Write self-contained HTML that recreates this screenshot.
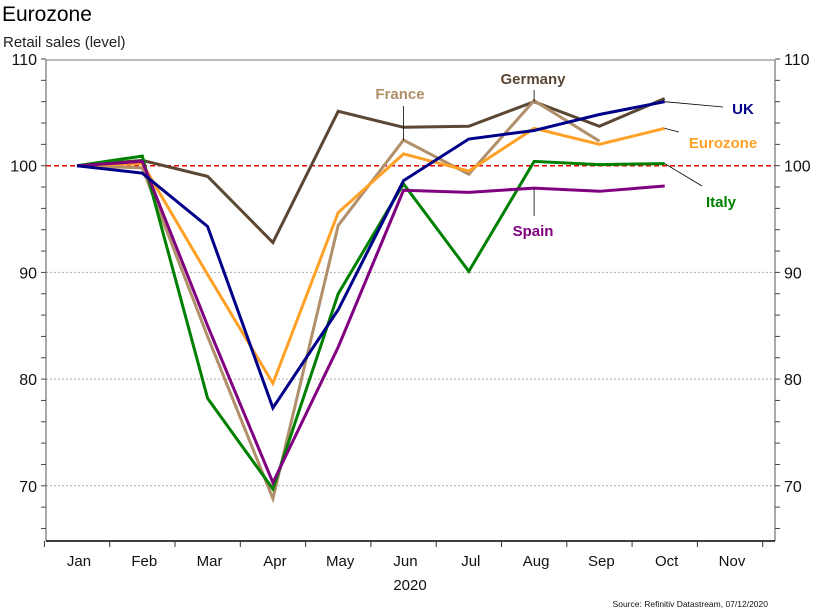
<!DOCTYPE html>
<html><head><meta charset="utf-8">
<style>
body{margin:0;background:#fff;}
svg{display:block;font-family:"Liberation Sans",Arial,sans-serif;}
</style></head>
<body>
<svg id="chart" width="815" height="616" viewBox="0 0 815 616" xmlns="http://www.w3.org/2000/svg">
<text x="2" y="21" font-size="21" fill="#000">Eurozone</text>
<text x="3" y="47" font-size="15" fill="#222">Retail sales (level)</text>
<g id="grid"></g>
<g id="axes"></g>
<g id="series"></g>
<g id="labels"></g>
<text x="410" y="590" font-size="15" text-anchor="middle" fill="#111">2020</text>
<text x="768" y="607" font-size="8.5" text-anchor="end" fill="#111">Source: Refinitiv Datastream, 07/12/2020</text>
</svg>
<script>
const months = ["Jan","Feb","Mar","Apr","May","Jun","Jul","Aug","Sep","Oct","Nov"];
const yTicks = [70,80,90,100,110];
const germany = [100,100.5,99.0,92.8,105.1,103.6,103.7,106.0,103.7,106.3];
const france = [100,99.8,84.0,68.8,94.4,102.4,99.2,106.1,102.3];
const eurozone = [100,100.2,89.8,79.6,95.6,101.1,99.5,103.5,102.0,103.5];
const uk = [100,99.3,94.3,77.3,86.5,98.6,102.5,103.3,104.8,106.0];
const italy = [100,100.9,78.2,69.7,88.0,98.3,90.1,100.4,100.1,100.2];
const spain = [100,100.4,85.0,70.3,83.0,97.7,97.5,97.9,97.6,98.1];

const NS="http://www.w3.org/2000/svg";
const L=46,R=775,T=60,B=541;
const y=v=>165.7-(v-100)*10.67;
const x=i=>77+i*65.3;
function mk(tag,attrs,parent){const e=document.createElementNS(NS,tag);for(const k in attrs)e.setAttribute(k,attrs[k]);parent.appendChild(e);return e;}
const grid=document.getElementById('grid'),axes=document.getElementById('axes'),ser=document.getElementById('series'),lab=document.getElementById('labels');

yTicks.forEach(v=>{
  if(v!==100&&v!==110){const g=mk('line',{x1:L,x2:R,y1:y(v),y2:y(v),stroke:'#aaa','stroke-width':1,'stroke-dasharray':'2,2'},grid);
  
  }
  const t1=mk('text',{x:L-9,y:y(v)+6,'font-size':16,'text-anchor':'end',fill:'#111'},axes);t1.textContent=v;
  
  
  const t2=mk('text',{x:R+9,y:y(v)+6,'font-size':16,'text-anchor':'start',fill:'#111'},axes);t2.textContent=v;
  
  
});
for(let v=66;v<=110;v+=2){
  mk('line',{x1:L-5,x2:L,y1:y(v),y2:y(v),stroke:'#444','stroke-width':1},axes);
  mk('line',{x1:R,x2:R+5,y1:y(v),y2:y(v),stroke:'#444','stroke-width':1},axes);
}
mk('line',{x1:L,x2:R,y1:T,y2:T,stroke:'#777','stroke-width':1},axes);
mk('line',{x1:L,x2:L,y1:T,y2:B,stroke:'#555','stroke-width':1},axes);
mk('line',{x1:R,x2:R,y1:T,y2:B,stroke:'#555','stroke-width':1},axes);
const xa=mk('line',{x1:L,x2:R,y1:B,y2:B,stroke:'#000','stroke-width':1.5},axes);


months.forEach((m,i)=>{
  const tx=x(i)-32.6;
  mk('line',{x1:tx,x2:tx,y1:B,y2:B+6,stroke:'#333','stroke-width':1},axes);
  const t=mk('text',{x:x(i)+2,y:566,'font-size':15,'text-anchor':'middle',fill:'#111'},axes);t.textContent=m;
  
  
});
mk('line',{x1:x(11)-32.6,x2:x(11)-32.6,y1:B,y2:B+6,stroke:'#333','stroke-width':1},axes);
const ref=mk('line',{x1:L,x2:R,y1:y(100),y2:y(100),stroke:'#e00','stroke-width':1.5,'stroke-dasharray':'5,3'},grid);



function line(data,color,w,name){
  const p=mk('polyline',{points:data.map((v,i)=>x(i)+','+y(v)).join(' '),fill:'none',stroke:color,'stroke-width':w,'stroke-linejoin':'miter'},ser);
  
  
}
line(germany,'#5b4733',3,'germany-line');
line(france,'#b18f6a',3,'france-line');
line(eurozone,'#ffa126',3,'eurozone-line');
line(italy,'#008000',3,'italy-line');
line(spain,'#800080',3,'spain-line');
line(uk,'#000088',3,'uk-line');

function label(txt,color,tx,ty,lx1,ly1,lx2,ly2,name){
  mk('line',{x1:lx1,y1:ly1,x2:lx2,y2:ly2,stroke:'#000','stroke-width':0.8},lab);
  const t=mk('text',{x:tx,y:ty,'font-size':15,'font-weight':'bold',fill:color,'text-anchor':'middle'},lab);t.textContent=txt;
  
  
}
label('France','#b18f6a',400,99,x(5),106,x(5),y(france[5]),'france-label');
label('Germany','#5b4733',533,84,x(7),90,x(7),y(germany[7]),'germany-label');
label('UK','#000088',743,114,x(9),y(uk[9]),723,107,'uk-label');
label('Eurozone','#ffa126',723,148,x(9),y(eurozone[9]),679,132,'eurozone-label');
label('Italy','#008000',721,207,x(9),y(italy[9]),702,186,'italy-label');
label('Spain','#800080',533,236,x(7),y(spain[7]),x(7),216,'spain-label');
</script>
</body></html>
